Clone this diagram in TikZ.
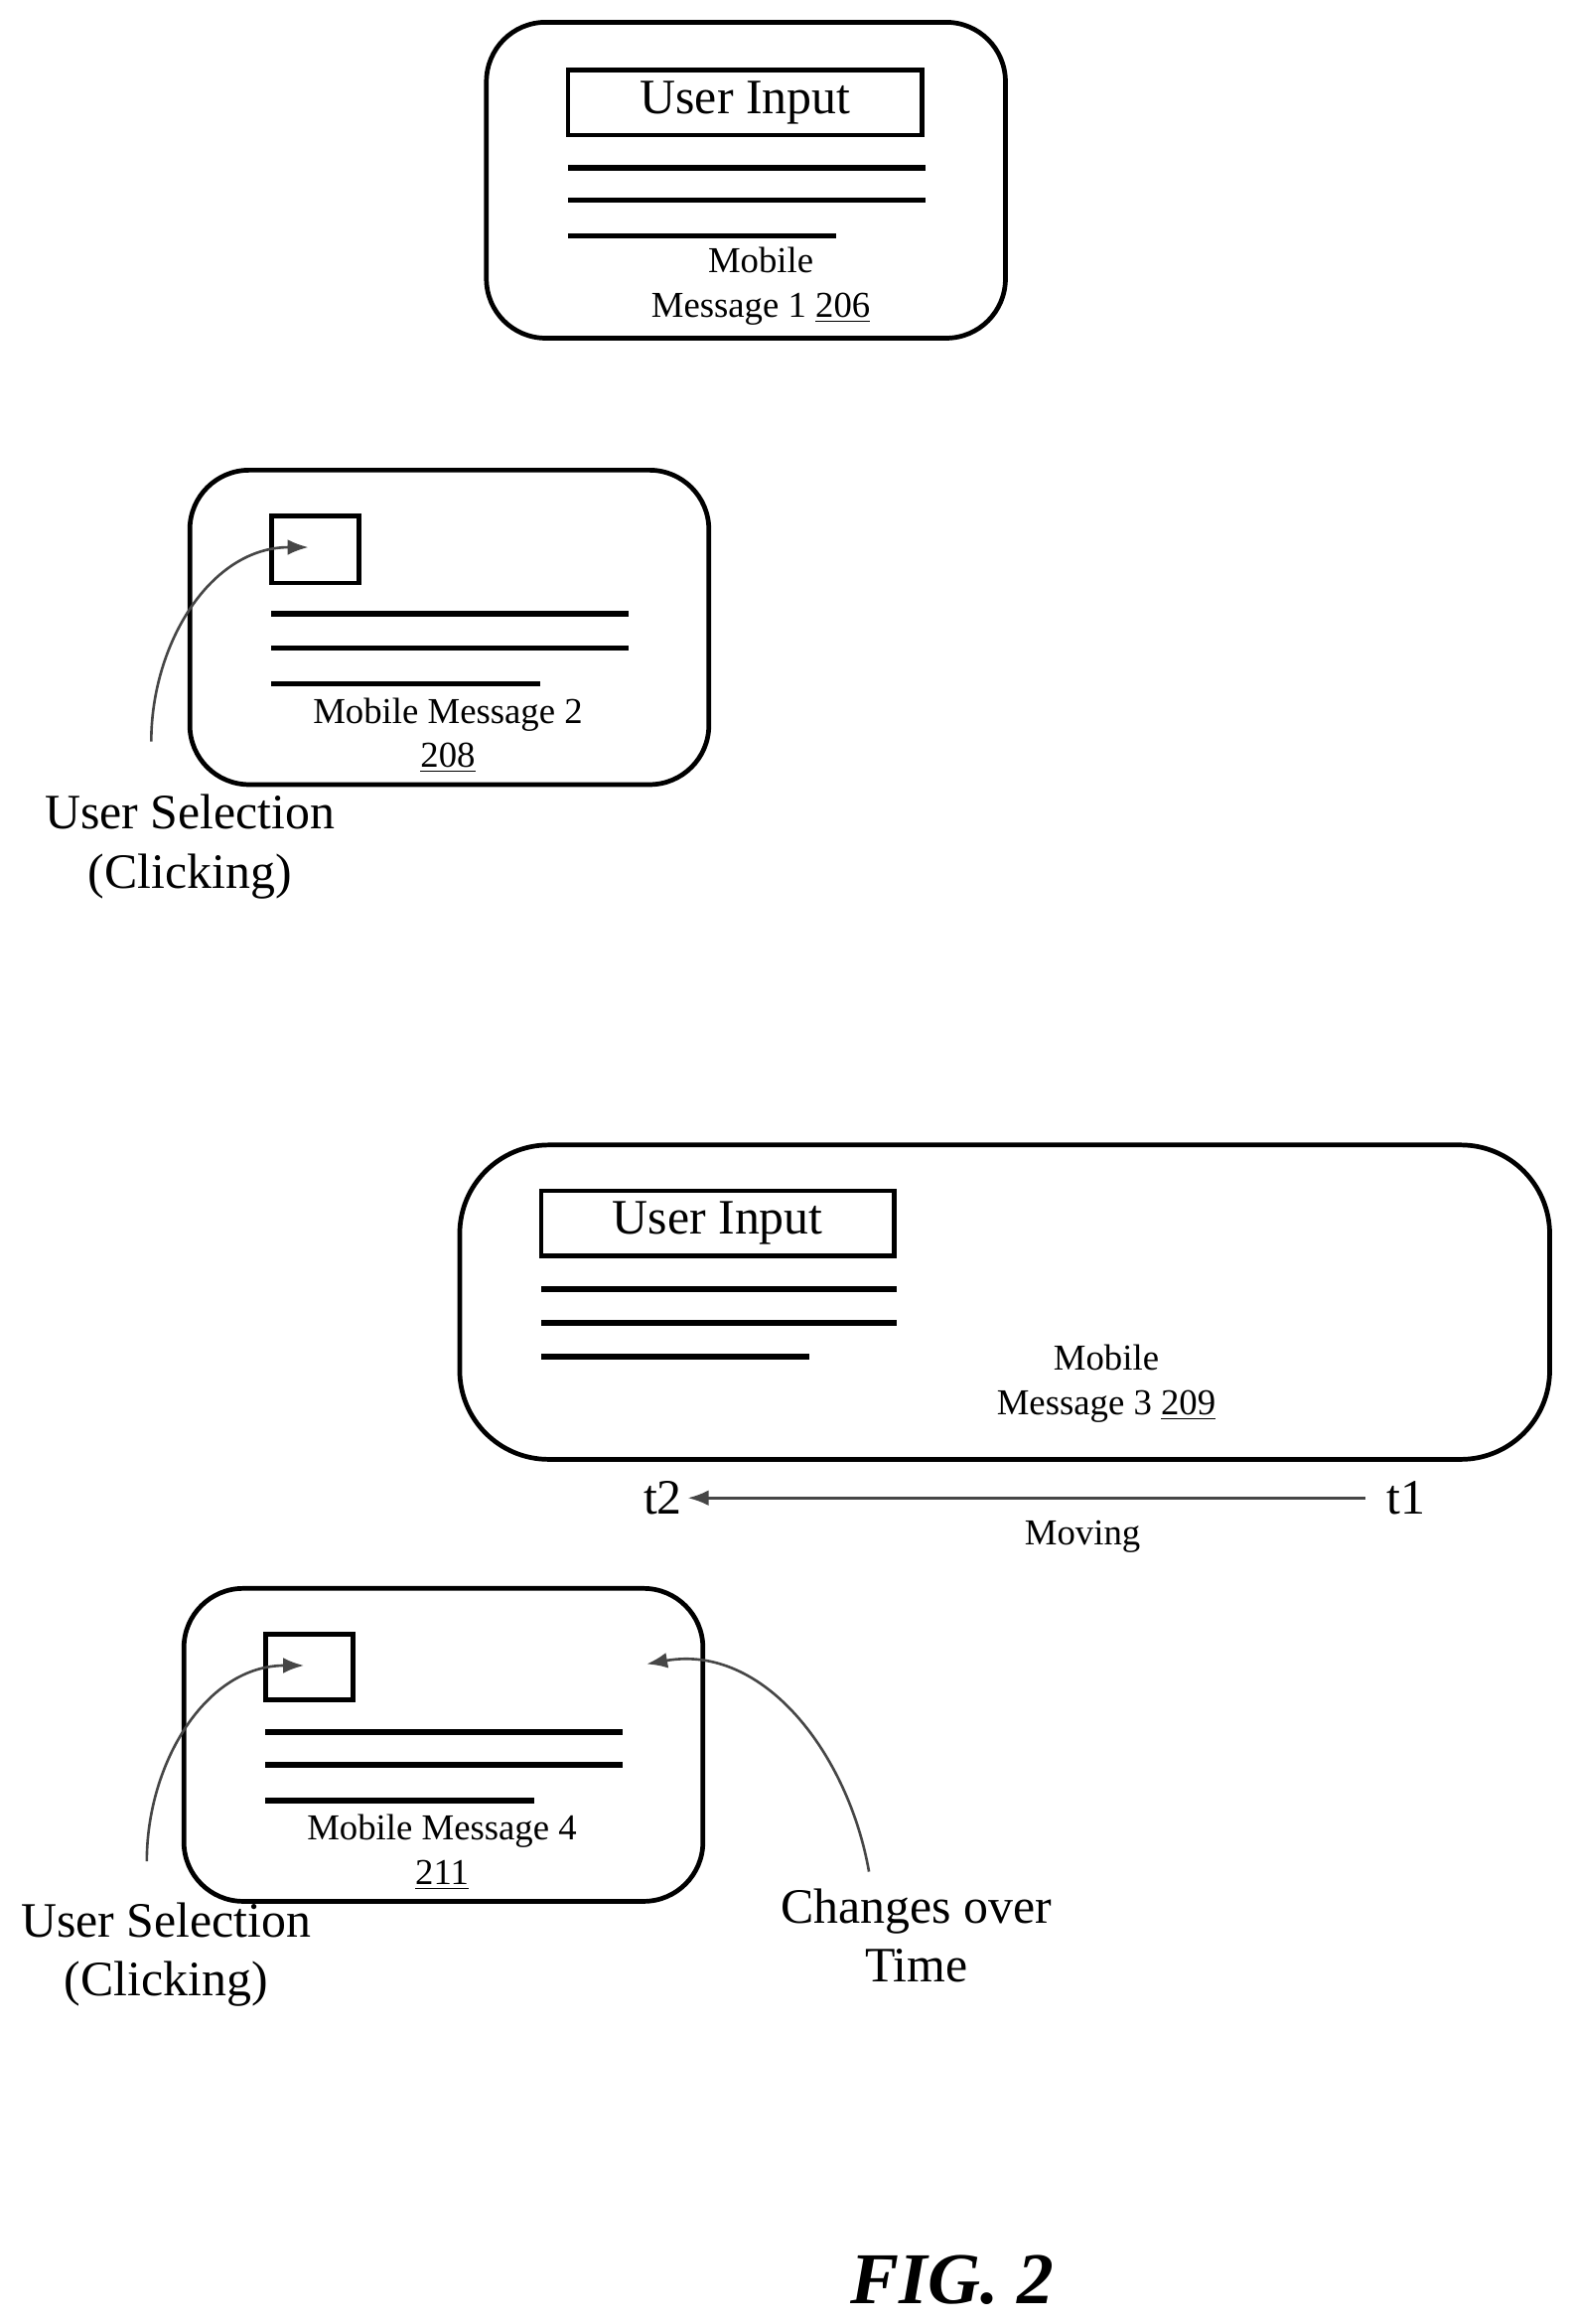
\documentclass[tikz,border=0pt]{standalone}
\usepackage{fontspec}
\setmainfont{Liberation Serif}
\usetikzlibrary{arrows.meta}
\definecolor{arrowgray}{RGB}{70, 70, 70}

\begin{document}
\begin{tikzpicture}[
        x=0.02cm, y=-0.02cm,
        message/.style={draw, line width=1.8pt, rounded corners=0.8cm},
        inputbox/.style={draw, line width=1.8pt},
        textline/.style={line width=2.2pt},
        label/.style={font=\fontsize{14}{17}\selectfont, align=center, inner sep=1pt},
        biglabel/.style={font=\fontsize{19}{22.7}\selectfont, align=center, inner sep=1pt},
        flow/.style={-{Latex[length=8pt,width=6pt]}, line width=1pt, color=arrowgray}
    ]
    \useasboundingbox (0,0) rectangle (1060,1567);

    % Mobile Message 1
    \draw[message] (328,15) rectangle (678,228);
    \node[inputbox, minimum width=239*0.02cm, minimum height=44*0.02cm, font=\fontsize{19}{22}\selectfont] (input1) at (502.5,69) {User Input};
    \draw[textline] (383,113) -- (624,113);
    \draw[textline] (383,135) -- (624,135);
    \draw[textline] (383,159) -- (564,159);
    \node[label] (msg1) at (513,193) {Mobile\\Message 1 \underline{206}};

    % Mobile Message 2
    \draw[message] (128,317) rectangle (478,529);
    \node[inputbox, minimum width=59*0.02cm, minimum height=45*0.02cm] (click2) at (212.5,370.5) {};
    \draw[textline] (183,414) -- (424,414);
    \draw[textline] (183,437) -- (424,437);
    \draw[textline] (183,461) -- (364,461);
    \node[label] (msg2) at (302,496) {Mobile Message 2\\\underline{208}};
    \node[biglabel] (select2) at (128,571) {User Selection\\(Clicking)};
    \coordinate (tip2) at (208,369);
    \draw[flow] (102,500) to[out=90, in=180] (tip2);

    % Mobile Message 3
    \draw[message, rounded corners=1.2cm] (310,772) rectangle (1045,984);
    \node[inputbox, minimum width=238*0.02cm, minimum height=44*0.02cm, font=\fontsize{19}{22}\selectfont] (input3) at (484,825) {User Input};
    \draw[textline] (365,869) -- (605,869);
    \draw[textline] (365,892) -- (605,892);
    \draw[textline] (365,915) -- (546,915);
    \node[label] (msg3) at (746,933) {Mobile\\Message 3 \underline{209}};

    % Moving
    \node[biglabel, inner sep=8pt] (t1) at (948,1010) {t1};
    \node[biglabel, inner sep=2pt] (t2) at (447,1010) {t2};
    \draw[flow] (t1) -- (t2);
    \node[label] (moving) at (730,1036) {Moving};

    % Mobile Message 4
    \draw[message] (124,1071) rectangle (474,1282);
    \node[inputbox, minimum width=59*0.02cm, minimum height=44*0.02cm] (click4) at (208.5,1124) {};
    \draw[textline] (179,1168) -- (420,1168);
    \draw[textline] (179,1190) -- (420,1190);
    \draw[textline] (179,1214) -- (360,1214);
    \node[label] (msg4) at (298,1249) {Mobile Message 4\\\underline{211}};
    \node[biglabel] (select4) at (112,1318) {User Selection\\(Clicking)};
    \coordinate (tip4) at (205,1123);
    \draw[flow] (99,1255) to[out=90, in=180] (tip4);
    \node[biglabel] (changes) at (618,1305) {Changes over\\Time};
    \coordinate (tip5) at (436,1122);
    \draw[flow] (586,1262) to[out=100, in=10] (tip5);

    % Caption
    \node[font=\fontsize{28}{32}\selectfont\bfseries\itshape] (fig) at (642,1537) {FIG. 2};
\end{tikzpicture}
\end{document}
